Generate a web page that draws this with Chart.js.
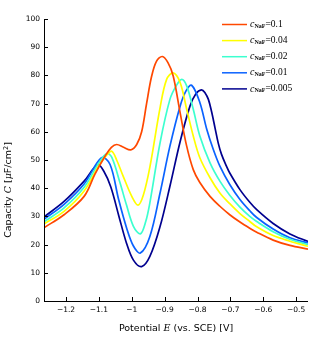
<!DOCTYPE html>
<html>
<head>
<meta charset="utf-8">
<script src="https://cdn.jsdelivr.net/npm/chart.js@4.4.1/dist/chart.umd.min.js"></script>
<style>
html,body{margin:0;padding:0;background:#fff;}
#wrap{width:324px;height:349px;position:relative;}
</style>
</head>
<body>
<div id="wrap"><canvas id="c" width="324" height="349"></canvas></div>
<script>
// ---- data ----
const concentrations = ['0.1', '0.04', '0.02', '0.01', '0.005'];

const x01 = [-1.267, -1.206, -1.145, -1.112, -1.081, -1.062, -1.046, -1.025, -1.003, -0.985, -0.970, -0.955, -0.940, -0.925, -0.907, -0.890, -0.874, -0.853, -0.833, -0.813, -0.793, -0.762, -0.732, -0.702, -0.671, -0.641, -0.620, -0.570, -0.519, -0.464];
const y01 = [26.0, 30.6, 37.1, 45.0, 51.4, 54.5, 55.5, 54.5, 53.6, 55.5, 60.0, 70.0, 79.5, 85.0, 86.7, 84.5, 79.8, 66.8, 54.9, 46.6, 42.0, 37.1, 33.6, 30.6, 28.0, 25.8, 24.4, 21.6, 19.7, 18.4];

const x004 = [-1.267, -1.206, -1.145, -1.100, -1.076, -1.061, -1.046, -1.026, -1.000, -0.981, -0.965, -0.945, -0.914, -0.894, -0.874, -0.853, -0.833, -0.813, -0.793, -0.762, -0.732, -0.702, -0.671, -0.641, -0.620, -0.570, -0.519, -0.464];
const y004 = [27.3, 31.8, 39.0, 48.0, 51.8, 53.1, 50.0, 44.2, 37.1, 34.0, 37.5, 47.5, 68.5, 78.6, 80.9, 77.5, 68.0, 58.5, 50.8, 43.7, 38.3, 34.5, 31.0, 28.2, 26.3, 23.2, 21.2, 19.4];

const x002 = [-1.267, -1.206, -1.145, -1.100, -1.076, -1.061, -1.036, -1.016, -0.995, -0.974, -0.958, -0.945, -0.914, -0.884, -0.865, -0.848, -0.833, -0.813, -0.793, -0.762, -0.732, -0.702, -0.671, -0.641, -0.620, -0.570, -0.519, -0.464];
const y002 = [28.1, 33.0, 40.3, 49.0, 52.3, 51.0, 42.0, 34.0, 26.5, 23.8, 28.0, 34.8, 56.1, 71.5, 76.3, 78.6, 76.3, 68.0, 58.5, 49.0, 42.5, 37.5, 33.3, 30.0, 28.2, 24.6, 21.9, 20.0];

const x001 = [-1.267, -1.206, -1.145, -1.092, -1.066, -1.040, -1.016, -0.995, -0.974, -0.945, -0.914, -0.884, -0.853, -0.835, -0.818, -0.793, -0.772, -0.752, -0.732, -0.702, -0.671, -0.641, -0.620, -0.570, -0.519, -0.464];
const y001 = [29.0, 34.3, 41.5, 50.8, 48.4, 36.0, 26.0, 19.5, 17.0, 22.9, 38.3, 54.9, 69.1, 74.5, 76.5, 70.4, 60.9, 53.7, 47.8, 41.3, 36.0, 32.0, 29.6, 25.5, 22.4, 20.6];

const x0005 = [-1.267, -1.206, -1.145, -1.104, -1.085, -1.064, -1.039, -1.016, -0.995, -0.970, -0.945, -0.914, -0.884, -0.853, -0.823, -0.805, -0.788, -0.777, -0.767, -0.757, -0.747, -0.737, -0.727, -0.712, -0.702, -0.671, -0.641, -0.620, -0.570, -0.519, -0.464];
const y0005 = [29.8, 35.3, 42.5, 48.3, 46.0, 40.5, 30.0, 20.5, 14.5, 12.2, 15.8, 26.4, 40.7, 56.5, 69.1, 73.5, 74.9, 73.8, 71.5, 67.0, 61.5, 56.0, 52.0, 47.8, 45.4, 39.5, 35.0, 32.4, 27.5, 23.8, 21.1];

const xTickValues = [-1.2, -1.1, -1.0, -0.9, -0.8, -0.7, -0.6, -0.5];
const xTickLabels = ['\u22121.2', '\u22121.1', '\u22121', '\u22120.9', '\u22120.8', '\u22120.7', '\u22120.6', '\u22120.5'];
const yTickValues = [0, 10, 20, 30, 40, 50, 60, 70, 80, 90, 100];

// ---- styles ----
const colors = ['#ff4800', '#ffff00', '#3cffcf', '#0a62ff', '#00008f'];
const seriesX = [x01, x004, x002, x001, x0005];
const seriesY = [y01, y004, y002, y001, y0005];

const datasets = concentrations.map((c, k) => ({
  label: c,
  data: seriesX[k].map((x, i) => ({x: x, y: seriesY[k][i]})),
  borderColor: colors[k],
  backgroundColor: colors[k],
  borderWidth: 1.7,
  pointRadius: 0,
  fill: false,
  tension: 0.35
}));

function drawSegments(ctx, segs, x, y) {
  let cx = x;
  for (const s of segs) {
    ctx.font = s.font;
    ctx.fillText(s.t, cx, y + (s.dy || 0));
    cx += ctx.measureText(s.t).width;
  }
  return cx;
}
function segWidth(ctx, segs) {
  let w = 0;
  for (const s of segs) { ctx.font = s.font; w += ctx.measureText(s.t).width; }
  return w;
}

const decor = {
  id: 'decor',
  afterDraw(chart) {
    const ctx = chart.ctx;
    const xs = chart.scales.x, ys = chart.scales.y;
    const a = chart.chartArea;
    ctx.save();
    ctx.strokeStyle = '#000';
    ctx.lineWidth = 1;
    // axis lines
    ctx.beginPath();
    ctx.moveTo(a.left + 0.5, ys.getPixelForValue(100));
    ctx.lineTo(a.left + 0.5, a.bottom + 0.5);
    ctx.lineTo(a.right, a.bottom + 0.5);
    ctx.stroke();
    // inward ticks
    ctx.beginPath();
    for (const v of xTickValues) {
      const px = Math.round(xs.getPixelForValue(v)) + 0.5;
      ctx.moveTo(px, a.bottom);
      ctx.lineTo(px, a.bottom - 4);
    }
    for (const v of yTickValues) {
      const py = Math.round(ys.getPixelForValue(v)) + 0.5;
      ctx.moveTo(a.left, py);
      ctx.lineTo(a.left + 4, py);
    }
    ctx.stroke();

    ctx.fillStyle = '#000';
    ctx.textBaseline = 'middle';
    // x title
    const fN = '9.5px "DejaVu Sans"';
    const fI = 'italic 9.5px "DejaVu Serif"';
    const xt = [
      {t: 'Potential ', font: fN},
      {t: 'E', font: fI},
      {t: ' (vs. SCE) [V]', font: fN}
    ];
    const xw = segWidth(ctx, xt);
    ctx.textAlign = 'left';
    drawSegments(ctx, xt, (a.left + a.right) / 2 - xw / 2, 329);

    // y title (rotated)
    const yt = [
      {t: 'Capacity ', font: fN},
      {t: 'C', font: fI},
      {t: ' [', font: fN},
      {t: '\u03bc', font: fI},
      {t: 'F/cm', font: fN},
      {t: '2', font: '6.5px "DejaVu Sans"', dy: -3},
      {t: ']', font: fN}
    ];
    const yw = segWidth(ctx, yt);
    ctx.save();
    ctx.translate(9, (a.top + a.bottom) / 2 + 30);
    ctx.rotate(-Math.PI / 2);
    drawSegments(ctx, yt, -yw / 2, 0);
    ctx.restore();

    // legend
    const lx0 = a.right - 86, lx1 = a.right - 61, tx = a.right - 58;
    chart.data.datasets.forEach((ds, k) => {
      const ly = a.top + 5.5 + k * 16.1;
      ctx.strokeStyle = ds.borderColor;
      ctx.lineWidth = 1.5;
      ctx.beginPath();
      ctx.moveTo(lx0, ly);
      ctx.lineTo(lx1, ly);
      ctx.stroke();
      ctx.fillStyle = '#000';
      drawSegments(ctx, [
        {t: 'c', font: 'italic 10px "Liberation Serif"'},
        {t: 'NaF', font: 'bold 6px "Liberation Serif"', dy: 2},
        {t: '=' + ds.label, font: '9.5px "Liberation Serif"'}
      ], tx, ly);
    });
    ctx.restore();
  }
};

new Chart(document.getElementById('c'), {
  type: 'line',
  data: {datasets: datasets},
  options: {
    responsive: false,
    animation: false,
    devicePixelRatio: 1,
    layout: {padding: {top: 19, right: 16, left: 0, bottom: 0}},
    plugins: {legend: {display: false}, tooltip: {enabled: false}},
    scales: {
      x: {
        type: 'linear',
        min: -1.267,
        max: -0.464,
        afterBuildTicks: (s) => { s.ticks = xTickValues.map(v => ({value: v})); },
        afterFit: (s) => { s.height = 48; },
        grid: {display: false, drawTicks: false},
        border: {display: false},
        ticks: {
          padding: 5,
          color: '#000',
          font: {family: 'DejaVu Sans', size: 7.5},
          maxRotation: 0,
          autoSkip: false,
          callback: (v, i) => xTickLabels[i]
        }
      },
      y: {
        type: 'linear',
        min: 0,
        max: 100,
        afterBuildTicks: (s) => { s.ticks = yTickValues.map(v => ({value: v})); },
        afterFit: (s) => { s.width = 44; },
        grid: {display: false, drawTicks: false},
        border: {display: false},
        ticks: {
          padding: 4,
          color: '#000',
          font: {family: 'DejaVu Sans', size: 7.5},
          autoSkip: false,
          callback: (v) => String(v)
        }
      }
    }
  },
  plugins: [decor]
});
</script>
</body>
</html>
